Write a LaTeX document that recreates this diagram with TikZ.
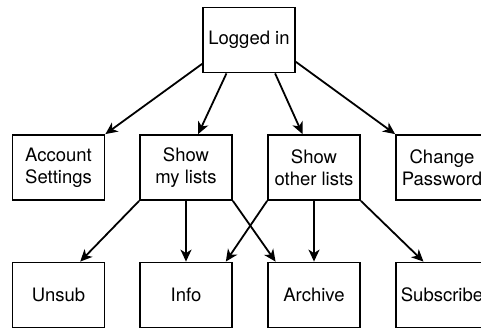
\documentclass[tikz,border=0pt]{standalone}
\usepackage{fontspec}
\setmainfont{TeX Gyre Heros}
\usetikzlibrary{arrows.meta}
\usetikzlibrary{positioning}

\begin{document}
\begin{tikzpicture}[x=1pt, y=-1pt, every node/.style={rectangle, draw, line width=1.8pt, minimum width=92pt, minimum height=65pt, inner sep=0pt, align=center, font=\fontsize{18.5}{22}\selectfont}, link/.style={line width=1.8pt, -{Stealth[length=12pt, width=11pt, inset=3.5pt]}}]
          \useasboundingbox (0, 0) rectangle (481, 327);
          \clip (0, 0) rectangle (481, 327);

          \node (login) at (249, 40) {Logged in};

          \node (acct) at (58.5, 167.5) {Account\\Settings};

          \node (mylists) at (186, 167.5) {Show\\my lists};

          \node (others) at (314, 167.5) {Show\\other lists};

          \node (chpw) at (442, 167.5) {Change\\Password};

          \node (unsub) at (58.5, 295) {Unsub};

          \node (info) at (186, 295) {Info};

          \node (archive) at (314, 295) {Archive};

          \node (subs) at (442, 295) {Subscribe};

          \draw[link] (login.207) -- (acct.north east);
          \draw[link] (login.236) -- (mylists.70);
          \draw[link] (login.308) -- (others.109);
          \draw[link] (login.335) -- (chpw.north west);
          \draw[link] (mylists.south west) -- (unsub.57);
          \draw[link] (mylists.south) -- (info.north);
          \draw[link] (mylists.south east) -- (archive.139);
          \draw[link] (others.south west) -- (info.40);
          \draw[link] (others.south) -- (archive.north);
          \draw[link] (others.south east) -- (subs.119);
        \end{tikzpicture}
\end{document}
